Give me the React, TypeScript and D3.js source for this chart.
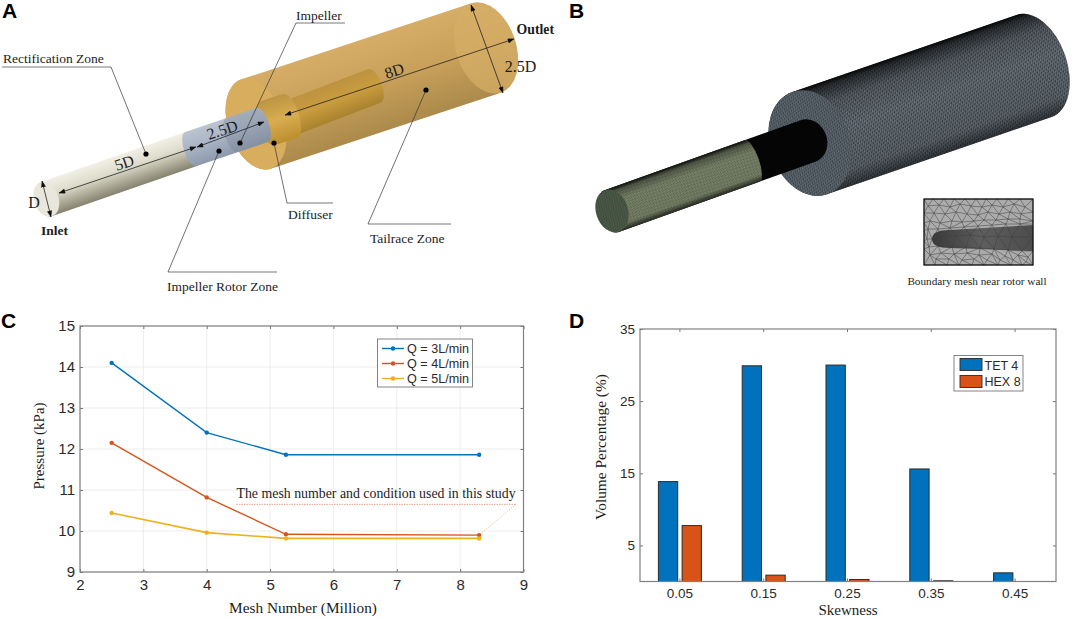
import * as d3 from "d3";
import React, { useEffect, useRef } from "react";

// panel C
const meshNumbers = [2.5, 4, 5.25, 8.3];
const q3Pressure = [14.1, 12.4, 11.86, 11.86];
const q4Pressure = [12.15, 10.82, 9.92, 9.9];
const q5Pressure = [10.44, 9.96, 9.82, 9.82];
const flowLabels = ["Q = 3L/min", "Q = 4L/min", "Q = 5L/min"];
const flowColors = ["#0072BD", "#D95319", "#EDB120"];

// panel D
const skewness = ["0.05", "0.15", "0.25", "0.35", "0.45"];
const tetVolume = [13.85, 29.9, 30, 15.6, 1.2];
const hexVolume = [7.75, 0.88, 0.28, 0.1, 0];
const elementLabels = ["TET 4", "HEX 8"];
const elementColors = ["#0072BD", "#D95319"];

// triangles behind the rotor in the inset of panel B (0-109 x 0-66)
const insetNodes = [
  [0, 0], [9, 0], [20, 0], [30, 0], [41, 0], [52, 0], [62, 0], [73, 0], [84, 0], [96, 0], [109, 0],
  [4, 7], [15, 6], [26, 8], [36, 5], [47, 7], [58, 8], [68, 6], [79, 8], [90, 5], [101, 8],
  [0, 14], [10, 14], [21, 15], [32, 13], [43, 15], [54, 16], [64, 13], [75, 15], [86, 13], [97, 15], [109, 13],
  [0, 24], [6, 22], [16, 24], [28, 22], [38, 23], [50, 22], [60, 21], [72, 21], [84, 20], [96, 20], [109, 22],
  [0, 32], [4, 30], [14, 30], [26, 29], [40, 28], [54, 27], [68, 26], [82, 25], [96, 25], [109, 25],
  [0, 42], [3, 40], [8, 40], [18, 38], [32, 37], [46, 36], [60, 38], [74, 37], [88, 38], [109, 38],
  [0, 50], [5, 48], [14, 47], [28, 48], [42, 48], [56, 49], [70, 50], [84, 51], [98, 52], [109, 52],
  [6, 56], [17, 54], [30, 55], [43, 54], [55, 56], [68, 55], [81, 57], [94, 56], [104, 58],
  [0, 66], [11, 66], [23, 66], [35, 66], [48, 66], [60, 66], [74, 66], [87, 66], [98, 66], [109, 66],
  [12, 60], [25, 60], [38, 61], [50, 60], [63, 61], [76, 61], [89, 61], [102, 63],
];

const SERIF = "'Liberation Serif'";
const SANS = "'Liberation Sans'";
type G = d3.Selection<any, unknown, null, undefined>;
type Pt = [number, number];

const label = (g: G, x: number, y: number, str: string, size: number, family = SERIF, opts: { anchor?: string; weight?: string; rotate?: number; fill?: string } = {}) => {
  g.append("text")
    .attr("transform", `translate(${x},${y}) rotate(${opts.rotate ?? 0})`)
    .attr("text-anchor", opts.anchor ?? "start")
    .attr("font-family", family)
    .attr("font-size", size)
    .attr("font-weight", opts.weight ?? "normal")
    .attr("fill", opts.fill ?? "#1c1c1c")
    .text(str);
};

// cylinder drawn along its own axis, so gradients run across it
const cylinder = (g: G, from: Pt, to: Pt, r: number, a1: number, a2: number, fill: string, opacity = 1) => {
  const angle = (Math.atan2(to[1] - from[1], to[0] - from[0]) * 180) / Math.PI;
  const len = Math.hypot(to[0] - from[0], to[1] - from[1]);
  g.append("path")
    .attr("transform", `translate(${from[0]},${from[1]}) rotate(${angle})`)
    .attr("d", `M0,${-r}L${len},${-r}A${a2},${r} 0 0 1 ${len},${r}L0,${r}A${a1},${r} 0 0 1 0,${-r}Z`)
    .attr("fill", fill)
    .attr("opacity", opacity);
};

const cap = (g: G, at: Pt, angle: number, r: number, a: number, fill: string, opacity = 1) => {
  g.append("ellipse")
    .attr("transform", `translate(${at[0]},${at[1]}) rotate(${angle})`)
    .attr("rx", a)
    .attr("ry", r)
    .attr("fill", fill)
    .attr("opacity", opacity);
};

const gradient = (defs: G, id: string, stops: [number, string, number?][]) => {
  const lg = defs.append("linearGradient").attr("id", id).attr("x1", 0).attr("y1", 0).attr("x2", 0).attr("y2", 1);
  stops.forEach(([o, c, a]) => {
    lg.append("stop").attr("offset", o).attr("stop-color", c).attr("stop-opacity", a ?? 1);
  });
};

const meshPattern = (defs: G, id: string, size: number, bg: string, line: string, width: number) => {
  const p = defs.append("pattern").attr("id", id).attr("patternUnits", "userSpaceOnUse")
    .attr("width", size).attr("height", size).attr("patternTransform", "rotate(-18)");
  p.append("rect").attr("width", size).attr("height", size).attr("fill", bg);
  p.append("path")
    .attr("d", `M0,0L${size},0M0,0L0,${size}M0,${size}L${size},0`)
    .attr("stroke", line).attr("stroke-width", width).attr("fill", "none");
};

const renderDefs = (svg: G) => {
  const defs = svg.append("defs");
  gradient(defs, "beige", [[0, "#f2f0e6"], [0.4, "#dedccb"], [1, "#85836e"]]);
  gradient(defs, "steel", [[0, "#bcc4d2"], [0.5, "#a9b3c5"], [1, "#8d98ad"]]);
  gradient(defs, "gold", [[0, "#d6ad67"], [0.5, "#c8a05a"], [1, "#ab8a4b"]]);
  gradient(defs, "goldInner", [[0, "#bd9340"], [0.5, "#c99c3e"], [1, "#a9822f"]]);
  gradient(defs, "hub", [[0, "#bc9444"], [0.5, "#d8ad50"], [1, "#bc8e2e"]]);
  gradient(defs, "meshShade", [[0, "#000", 0.95], [0.05, "#000", 0.6], [0.2, "#000", 0.2], [0.45, "#000", 0.05], [0.85, "#000", 0.15], [1, "#000", 0.55]]);
  gradient(defs, "tubeShade", [[0, "#000", 0.9], [0.1, "#000", 0.35], [0.3, "#000", 0.08], [0.85, "#000", 0.1], [1, "#000", 0.7]]);
  const rod = defs.append("linearGradient").attr("id", "rod").attr("x1", 0).attr("y1", 0).attr("x2", 1).attr("y2", 0);
  rod.append("stop").attr("offset", 0).attr("stop-color", "#3a3a3a");
  rod.append("stop").attr("offset", 0.5).attr("stop-color", "#5e5e5e");
  rod.append("stop").attr("offset", 1).attr("stop-color", "#4c4c4c");
  meshPattern(defs, "bigMesh", 3, "#3e464d", "#a0a8ae", 0.5);
  meshPattern(defs, "faceMesh", 2.6, "#3c444c", "#808a92", 0.42);
  meshPattern(defs, "greenMesh", 2, "#59644c", "#a0a98c", 0.5);
  meshPattern(defs, "greenFace", 2.4, "#3c4939", "#5c6a56", 0.4);
  defs.append("marker").attr("id", "arrow").attr("viewBox", "0 0 8 6").attr("refX", 7.5).attr("refY", 3)
    .attr("markerWidth", 7).attr("markerHeight", 5).attr("markerUnits", "userSpaceOnUse")
    .attr("orient", "auto-start-reverse")
    .append("path").attr("d", "M0,0L8,3L0,6Z").attr("fill", "#111");
};

const renderPanelA = (svg: G) => {
  const g = svg.append("g");
  const angle = -18.5;
  cylinder(g, [256, 124], [486, 48], 47, 28, 30, "url(#gold)");
  cap(g, [256, 124], angle, 47, 28, "#d9ad5e");
  cap(g, [486, 48], angle, 47, 30, "#d6ad66", 0.75);
  cylinder(g, [293, 117], [374, 86], 18, 8, 8, "url(#goldInner)");
  cylinder(g, [268, 123], [290, 116], 23, 10, 9, "url(#hub)");
  cylinder(g, [46.5, 199], [191, 149], 18, 12, 7, "url(#beige)");
  cylinder(g, [191, 149], [262, 125], 18, 7, 7, "url(#steel)");
  cylinder(g, [232, 135], [262, 125], 18, 7, 7, "#75808f", 0.35);
  cap(g, [46.5, 199], angle, 18, 12, "#e9e7dc");

  const dim = (a: Pt, b: Pt) => {
    g.append("line").attr("x1", a[0]).attr("y1", a[1]).attr("x2", b[0]).attr("y2", b[1])
      .attr("stroke", "#222").attr("stroke-width", 0.8)
      .attr("marker-start", "url(#arrow)").attr("marker-end", "url(#arrow)");
  };
  dim([42, 181], [51, 217]);
  dim([59, 193], [196, 147]);
  dim([197, 147], [264, 122]);
  dim([285, 115], [514, 39]);
  dim([471, 5], [503, 93]);

  label(g, 34, 207.5, "D", 16, SERIF, { anchor: "middle" });
  label(g, 126, 168, "5D", 16, SERIF, { anchor: "middle", rotate: angle });
  label(g, 224, 135, "2.5D", 16, SERIF, { anchor: "middle", rotate: angle });
  label(g, 396, 76, "8D", 16, SERIF, { anchor: "middle", rotate: angle });
  label(g, 520.5, 71.5, "2.5D", 16, SERIF, { anchor: "middle" });
  label(g, 516.5, 34, "Outlet", 13.8, SERIF, { weight: "bold" });
  label(g, 41, 235, "Inlet", 13.5, SERIF, { weight: "bold" });

  const callout = (under: [number, number, number], end: Pt, fromLeft = true) => {
    const [x1, x2, y] = under;
    g.append("line").attr("x1", x1).attr("x2", x2).attr("y1", y).attr("y2", y).attr("stroke", "#555").attr("stroke-width", 0.8);
    g.append("line").attr("x1", fromLeft ? x1 : x2).attr("y1", y).attr("x2", end[0]).attr("y2", end[1]).attr("stroke", "#333").attr("stroke-width", 0.7);
    g.append("circle").attr("cx", end[0]).attr("cy", end[1]).attr("r", 2.6).attr("fill", "#000");
  };
  callout([2, 111, 67], [146, 154], false);
  callout([296, 345, 23], [240, 143]);
  callout([287, 333, 203], [274, 143]);
  callout([368, 451, 224], [426, 90]);
  callout([168, 277, 272], [219, 151]);
  label(g, 3, 63, "Rectification Zone", 13.5);
  label(g, 296, 19.5, "Impeller", 13.5);
  label(g, 288, 219, "Diffuser", 13.5);
  label(g, 370, 243, "Tailrace Zone", 13.5);
  label(g, 167, 291, "Impeller Rotor Zone", 13.5);
};

const renderPanelB = (svg: G) => {
  const g = svg.append("g");
  const angle = -18.5;
  const bigFrom: Pt = [810, 143];
  const bigTo: Pt = [1034, 66];
  cylinder(g, bigFrom, bigTo, 54, 40, 33, "url(#bigMesh)");
  cylinder(g, bigFrom, bigTo, 54, 40, 33, "url(#meshShade)");
  cap(g, bigFrom, angle, 54, 40, "url(#faceMesh)");
  cylinder(g, [612, 211], [808, 141], 22, 14, 19, "#050505");
  cylinder(g, [612, 211], [752, 161], 22, 14, 7, "url(#greenMesh)");
  cylinder(g, [612, 211], [752, 161], 22, 14, 7, "url(#tubeShade)");
  cap(g, [612, 211], angle, 22, 16, "url(#greenFace)");

  // inset with the boundary mesh, lines run over the rod too
  const inset = g.append("g").attr("transform", "translate(924,199)");
  const delaunay = d3.Delaunay.from(insetNodes as Pt[]);
  inset.append("rect").attr("width", 109).attr("height", 66).attr("fill", "#ababab");
  inset.append("path")
    .attr("d", "M109,26L26,31C14,31 8,34 8,40C8,46 14,49 26,49L109,52Z")
    .attr("fill", "url(#rod)");
  inset.append("path").attr("d", delaunay.render()).attr("fill", "none").attr("stroke", "#3f3f3f").attr("stroke-width", 0.5);
  inset.append("rect").attr("width", 109).attr("height", 66).attr("fill", "none").attr("stroke", "#111").attr("stroke-width", 1.2);
  label(g, 977, 285, "Boundary mesh near rotor wall", 11.2, SERIF, { anchor: "middle" });
};

const styleAxis = (a: G, size: number) => {
  a.select(".domain").remove();
  a.selectAll("line").attr("stroke", "#555").attr("stroke-width", 0.8);
  a.selectAll("text").attr("font-family", SANS).attr("font-size", size).attr("fill", "#2a2a2a");
};

const renderPanelC = (svg: G) => {
  const left = 80, right = 523.5, top = 326, bottom = 572;
  const g = svg.append("g");
  const x = d3.scaleLinear().domain([2, 9]).range([left, right]);
  const y = d3.scaleLinear().domain([9, 15]).range([bottom, top]);
  const xTicks = d3.range(2, 10);
  const yTicks = d3.range(9, 16);
  const fmt = d3.format("d") as (v: any) => string;

  g.append("g").selectAll("line").data(xTicks).join("line")
    .attr("x1", (d) => x(d)).attr("x2", (d) => x(d)).attr("y1", top).attr("y2", bottom)
    .attr("stroke", "#e8e8e8").attr("stroke-width", 0.8);
  g.append("g").selectAll("line").data(yTicks).join("line")
    .attr("x1", left).attr("x2", right).attr("y1", (d) => y(d)).attr("y2", (d) => y(d))
    .attr("stroke", "#e8e8e8").attr("stroke-width", 0.8);

  const bottomAxis = g.append("g").attr("transform", `translate(0,${bottom})`)
    .call(d3.axisBottom(x).tickValues(xTicks).tickFormat(fmt).tickSizeInner(-3).tickPadding(7));
  styleAxis(bottomAxis, 15);
  const leftAxis = g.append("g").attr("transform", `translate(${left},0)`)
    .call(d3.axisLeft(y).tickValues(yTicks).tickFormat(fmt).tickSizeInner(-3).tickPadding(5));
  styleAxis(leftAxis, 15);
  styleAxis(g.append("g").attr("transform", `translate(0,${top})`)
    .call(d3.axisTop(x).tickValues(xTicks).tickSizeInner(-3).tickFormat(() => "")), 15);
  styleAxis(g.append("g").attr("transform", `translate(${right},0)`)
    .call(d3.axisRight(y).tickValues(yTicks).tickSizeInner(-3).tickFormat(() => "")), 15);
  g.append("rect").attr("x", left).attr("y", top).attr("width", right - left).attr("height", bottom - top)
    .attr("fill", "none").attr("stroke", "#808080").attr("stroke-width", 1.2);

  // annotation sits under the curves
  g.append("line").attr("x1", x(4.47)).attr("x2", x(8.88)).attr("y1", y(10.65)).attr("y2", y(10.65))
    .attr("stroke", "#e2765a").attr("stroke-width", 0.7).attr("stroke-dasharray", "1.5 1");
  g.append("line").attr("x1", x(8.88)).attr("x2", x(8.3)).attr("y1", y(10.65)).attr("y2", y(9.9))
    .attr("stroke", "#eeb49f").attr("stroke-width", 0.7).attr("stroke-dasharray", "1.5 1");
  label(g, x(4.47), 498, "The mesh number and condition used in this study", 13.85);

  const line = d3.line<number>().x((_, i) => x(meshNumbers[i])).y((d) => y(d));
  [q3Pressure, q4Pressure, q5Pressure].forEach((series, k) => {
    g.append("path").attr("d", line(series)).attr("fill", "none").attr("stroke", flowColors[k]).attr("stroke-width", k === 2 ? 1.6 : 1.4);
    g.append("g").selectAll("circle").data(series).join("circle")
      .attr("cx", (_, i) => x(meshNumbers[i])).attr("cy", (d) => y(d)).attr("r", 2.2).attr("fill", flowColors[k]);
  });

  const legend = g.append("g");
  legend.append("rect").attr("x", 377.5).attr("y", 339).attr("width", 95).attr("height", 48)
    .attr("fill", "#fff").attr("stroke", "#777").attr("stroke-width", 0.9);
  flowLabels.forEach((name, k) => {
    const ly = 348.5 + k * 15;
    legend.append("line").attr("x1", 382).attr("x2", 404).attr("y1", ly).attr("y2", ly).attr("stroke", flowColors[k]).attr("stroke-width", 1.4);
    legend.append("circle").attr("cx", 393).attr("cy", ly).attr("r", 2.2).attr("fill", flowColors[k]);
    label(legend, 407, ly + 4.5, name, 12.6, SANS, { fill: "#2a2a2a" });
  });

  label(g, 303, 613, "Mesh Number (Million)", 15.3, SERIF, { anchor: "middle" });
  label(g, 44, 446, "Pressure (kPa)", 15, SERIF, { anchor: "middle", rotate: -90 });
};

const renderPanelD = (svg: G) => {
  const left = 640, right = 1056, top = 329, bottom = 581.5;
  const g = svg.append("g");
  const x = d3.scaleBand().domain(skewness).range([left - 2, right + 1]);
  const y = d3.scaleLinear().domain([0, 35]).range([bottom, top]);
  const sub = d3.scaleBand().domain(elementLabels).range([-21.5, 21.5]).paddingInner(0.186);
  const yTicks = [5, 15, 25, 35];

  const bottomAxis = g.append("g").attr("transform", `translate(0,${bottom})`)
    .call(d3.axisBottom(x).tickSizeInner(-3).tickPadding(7));
  styleAxis(bottomAxis, 13.5);
  const leftAxis = g.append("g").attr("transform", `translate(${left},0)`)
    .call(d3.axisLeft(y).tickValues(yTicks).tickSizeInner(-3).tickPadding(5));
  styleAxis(leftAxis, 13.5);
  styleAxis(g.append("g").attr("transform", `translate(0,${top})`)
    .call(d3.axisTop(x).tickSizeInner(-3).tickFormat(() => "")), 13);
  styleAxis(g.append("g").attr("transform", `translate(${right},0)`)
    .call(d3.axisRight(y).tickValues(yTicks).tickSizeInner(-3).tickFormat(() => "")), 13);

  [tetVolume, hexVolume].forEach((series, k) => {
    g.append("g").selectAll("rect").data(series).join("rect")
      .attr("x", (_, i) => x(skewness[i])! + x.bandwidth() / 2 + sub(elementLabels[k])!)
      .attr("y", (d) => y(d))
      .attr("width", sub.bandwidth())
      .attr("height", (d) => bottom - y(d))
      .attr("fill", elementColors[k])
      .attr("stroke", "#2b2b2b")
      .attr("stroke-width", (d) => (d > 0 ? 1 : 0));
  });
  g.append("rect").attr("x", left).attr("y", top).attr("width", right - left).attr("height", bottom - top)
    .attr("fill", "none").attr("stroke", "#808080").attr("stroke-width", 1.2);

  const legend = g.append("g");
  legend.append("rect").attr("x", 954).attr("y", 355.5).attr("width", 69).attr("height", 35.5)
    .attr("fill", "#fff").attr("stroke", "#777").attr("stroke-width", 0.9);
  elementLabels.forEach((name, k) => {
    legend.append("rect").attr("x", 960).attr("y", 358.5 + k * 17).attr("width", 22).attr("height", 12)
      .attr("fill", elementColors[k]).attr("stroke", "#2b2b2b").attr("stroke-width", 0.9);
    label(legend, 984.5, 369.5 + k * 16.5, name, 12.5, SANS, { fill: "#2a2a2a" });
  });

  label(g, 848, 615, "Skewness", 15, SERIF, { anchor: "middle" });
  label(g, 606, 447, "Volume Percentage (%)", 15.4, SERIF, { anchor: "middle", rotate: -90 });
};

const App: React.FC = () => {
  const svgRef = useRef<SVGSVGElement>(null);

  useEffect(() => {
    const svg = d3.select(svgRef.current) as unknown as G;
    svg.selectAll("*").remove();
    renderDefs(svg);
    renderPanelA(svg);
    renderPanelB(svg);
    renderPanelC(svg);
    renderPanelD(svg);
    label(svg, 2, 18, "A", 21, SANS, { weight: "bold", fill: "#000" });
    label(svg, 569, 18, "B", 21, SANS, { weight: "bold", fill: "#000" });
    label(svg, 1, 328, "C", 21, SANS, { weight: "bold", fill: "#000" });
    label(svg, 569, 328, "D", 21, SANS, { weight: "bold", fill: "#000" });
  }, []);

  return (
    <svg
      ref={svgRef}
      width={1072}
      height={619}
      style={{ position: "absolute", left: 0, top: 0, background: "#fff" }}
    />
  );
};

export default App;
